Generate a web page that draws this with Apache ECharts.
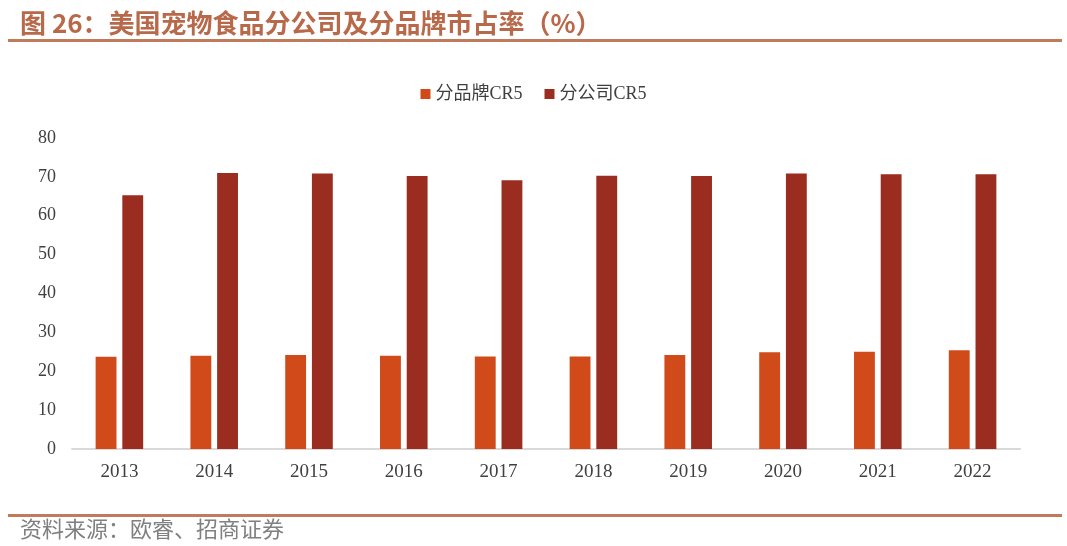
<!DOCTYPE html>
<html>
<head>
<meta charset="utf-8">
<script src="https://cdn.jsdelivr.net/npm/echarts@6/dist/echarts.min.js"></script>
<style>
html,body{margin:0;padding:0;background:#fff;}
#chart{width:1067px;height:546px;}
</style>
</head>
<body>
<div id="chart"></div>
<script>
var categories = ['2013','2014','2015','2016','2017','2018','2019','2020','2021','2022'];
var brandCR5 = [23.7, 24.0, 24.2, 24.0, 23.8, 23.8, 24.2, 24.9, 25.0, 25.4];
var companyCR5 = [65.3, 71.0, 70.9, 70.2, 69.1, 70.3, 70.2, 70.9, 70.7, 70.7];
var yTicks = [0, 10, 20, 30, 40, 50, 60, 70, 80];
var seriesNames = ['分品牌CR5', '分公司CR5'];
var titleText = '图 26：美国宠物食品分公司及分品牌市占率（%）';
var sourceText = '资料来源：欧睿、招商证券';

var serif = '"Liberation Serif", "Noto Sans CJK SC", serif';
var chart = echarts.init(document.getElementById('chart'));
chart.setOption({
  animation: false,
  backgroundColor: '#ffffff',
  title: {
    text: titleText,
    left: 15,
    top: 5,
    textStyle: {
      color: '#B8694A',
      fontSize: 26,
      fontWeight: 'bold',
      fontFamily: '"Noto Sans CJK SC", sans-serif'
    }
  },
  graphic: [
    { type: 'rect', shape: { x: 8, y: 39, width: 1054, height: 3 }, style: { fill: '#C07A5C' } },
    { type: 'rect', shape: { x: 8, y: 514, width: 1054, height: 3 }, style: { fill: '#C07A5C' } },
    { type: 'text', left: 20, top: 518, style: { text: sourceText, fill: '#808080', fontSize: 22, fontFamily: '"Noto Sans CJK SC", sans-serif' } }
  ],
  legend: {
    data: seriesNames,
    top: 80,
    left: 'center',
    itemWidth: 10,
    itemHeight: 10,
    itemGap: 22,
    icon: 'rect',
    textStyle: { color: '#404040', fontSize: 18, fontFamily: serif }
  },
  grid: { left: 72, right: 47, top: 138, bottom: 97, containLabel: false },
  xAxis: {
    type: 'category',
    data: categories,
    axisLine: { show: true, lineStyle: { color: '#D9D9D9', width: 2 } },
    axisTick: { show: false },
    axisLabel: { color: '#404040', fontSize: 19, fontFamily: serif, margin: 14 }
  },
  yAxis: {
    type: 'value',
    min: 0,
    max: 80,
    interval: 10,
    axisLine: { show: false },
    axisTick: { show: false },
    splitLine: { show: false },
    axisLabel: {
      color: '#404040', fontSize: 18, fontFamily: serif, margin: 16,
      formatter: function (v) { return yTicks.indexOf(v) >= 0 ? String(v) : ''; }
    }
  },
  series: [
    { name: seriesNames[0], type: 'bar', data: brandCR5, barWidth: '22%', barGap: '28%', itemStyle: { color: '#D04A1A' } },
    { name: seriesNames[1], type: 'bar', data: companyCR5, barWidth: '22%', barGap: '28%', itemStyle: { color: '#9A2D20' } }
  ]
});
</script>
</body>
</html>
